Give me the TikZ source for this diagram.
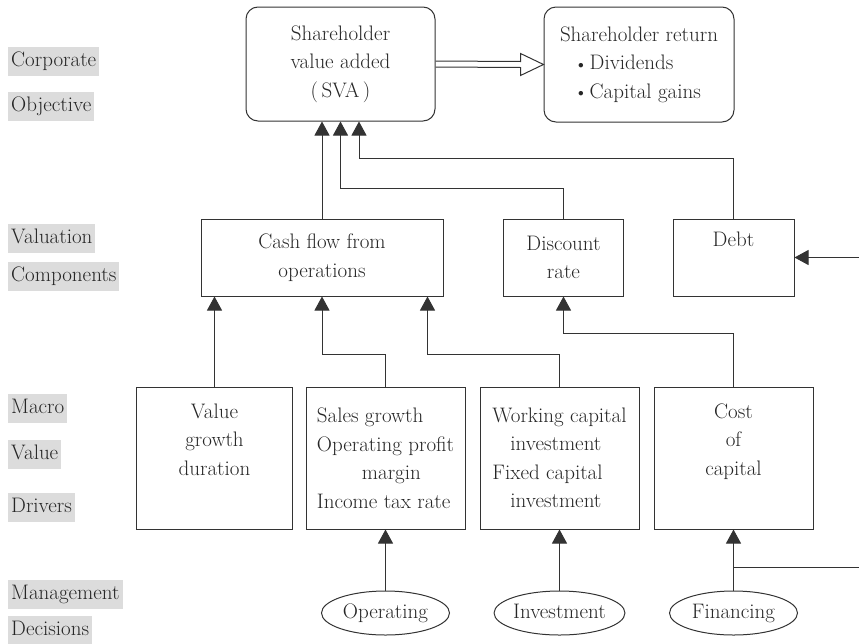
\documentclass[tikz,border=0pt]{standalone}
\usepackage{fontspec}
\usetikzlibrary{arrows.meta,shapes.geometric,calc}
\definecolor{ink}{HTML}{262626}
\definecolor{edge}{HTML}{333333}
\definecolor{tag}{HTML}{DCDCDC}
\newcommand{\dotmark}{\hspace{18pt}\raisebox{0.15ex}{\scalebox{0.55}{$\bullet$}}\hspace{6pt}}
\begin{document}
\begin{tikzpicture}[x=1pt,y=-1pt,
  every node/.style={font=\fontsize{21}{28.5}\selectfont, text=ink},
  box/.style={draw=edge, line width=1pt, inner sep=0pt, align=center},
  rbox/.style={box, rounded corners=12pt},
  oval/.style={draw=edge, line width=1pt, ellipse, minimum width=128pt, minimum height=44pt,
    inner sep=0pt, text height=14.5pt, text depth=4.5pt},
  tagbox/.style={fill=tag, anchor=west, inner xsep=3pt, inner ysep=5pt,
    text height=14.5pt, text depth=4.5pt},
  link/.style={draw=edge, line width=1pt},
  feed/.style={link, -{Triangle[length=14pt,width=15pt]}},
]
\useasboundingbox (0,0) rectangle (859,643);

% level labels on the left
\node[tagbox] (l1) at (8,61.5) {Corporate};
\node[tagbox] (l2) at (8,106.5) {Objective};
\node[tagbox] (l3) at (8,238.5) {Valuation};
\node[tagbox] (l4) at (8,276.5) {Components};
\node[tagbox] (l5) at (8,408.5) {Macro};
\node[tagbox] (l6) at (8,454) {Value};
\node[tagbox] (l7) at (8,507.5) {Drivers};
\node[tagbox] (l8) at (8,594.5) {Management};
\node[tagbox] (l9) at (8,630) {Decisions};

% corporate objective
\node[rbox, minimum width=189pt, minimum height=114pt] (sva) at (340.5,64)
  {Shareholder\\value added\\(\,SVA\,)};
\node[rbox, minimum width=190pt, minimum height=115pt, align=left] (ret) at (639,64.5)
  {Shareholder return\\\dotmark Dividends\\\dotmark Capital gains};

% valuation components
\node[box, minimum width=242pt, minimum height=77pt] (cf) at (322,257.5)
  {Cash flow from\\operations};
\node[box, minimum width=120pt, minimum height=77pt] (dr) at (563.5,257.5)
  {Discount\\rate};
\node[box, minimum width=121pt, minimum height=77pt] (debt) at (733.5,257.5)
  {Debt\\\strut};

% macro value drivers
\node[box, minimum width=156pt, minimum height=142pt] (m1) at (214.5,458)
  {Value\\growth\\duration\\\strut};
\node[box, minimum width=159pt, minimum height=142pt, align=left] (m2) at (385.5,458)
  {Sales growth\\Operating profit\\\hspace{45pt}margin\\Income tax rate};
\node[box, minimum width=159pt, minimum height=142pt, align=left] (m3) at (559.5,458)
  {Working capital\\\hspace{18pt}investment\\Fixed capital\\\hspace{18pt}investment};
\node[box, minimum width=159pt, minimum height=142pt] (m4) at (733.5,458)
  {Cost\\of\\capital\\\strut};

% management decisions
\node[oval] (op) at (385.5,613) {Operating};
\node[oval] (inv) at (559.5,613) {Investment};
\node[oval] (fin) at (733.5,613) {Financing};

% value added flows into shareholder return
\draw[link, line join=miter]
  ($(sva.east)+(0,-3)$) -- ($(ret.west)+(-23,-3)$) -- ($(ret.west)+(-23,-11)$)
  -- (ret.west) -- ($(ret.west)+(-23,11)$) -- ($(ret.west)+(-23,3)$) -- ($(sva.east)+(0,3)$);

% components into SVA
\draw[feed] (cf.north) -- (cf.north |- sva.south);
\draw[feed] (dr.north) -- ++(0,-30) -| (sva.south);
\draw[feed] (debt.north) -- ++(0,-60) -| ($(sva.south)+(18.5,0)$);

% drivers into components
\draw[feed] (m1.north) -- (m1.north |- cf.south);
\draw[feed] (m2.north) -- ++(0,-32) -| (cf.south);
\draw[feed] (m3.north) -- ++(0,-32) -| ($(cf.south)+(105.5,0)$);
\draw[feed] (m4.north) -- ++(0,-53) -| (dr.south);

% external inputs
\coordinate (din) at (859,257.5);
\draw[feed] (din) -- (debt.east);

% decisions into drivers
\draw[feed] (op.north) -- (m2.south);
\draw[feed] (inv.north) -- (m3.south);
\draw[feed] (fin.north) -- (m4.south);
\coordinate (fout) at (859,567);
\draw[link] (fin.north |- fout) -- (fout);

\end{tikzpicture}
\end{document}
